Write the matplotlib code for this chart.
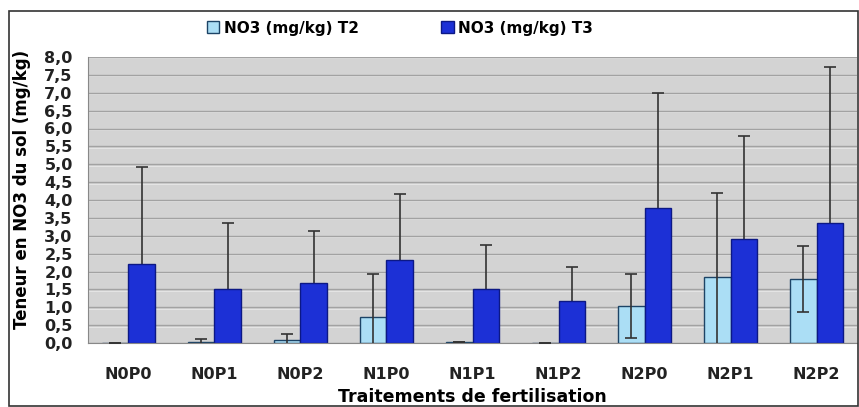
import matplotlib.pyplot as plt
from matplotlib.patches import Rectangle
import numpy as np

categories = ["N0P0", "N0P1", "N0P2", "N1P0", "N1P1", "N1P2", "N2P0", "N2P1", "N2P2"]
t2_values = [0.0, 0.03, 0.07, 0.72, 0.02, 0.0, 1.03, 1.85, 1.80]
t2_errors = [0.0, 0.09, 0.18, 1.21, 0.0, 0.0, 0.90, 2.35, 0.92]
t3_values = [2.22, 1.52, 1.68, 2.33, 1.52, 1.17, 3.77, 2.90, 3.35]
t3_errors = [2.71, 1.83, 1.44, 1.85, 1.23, 0.96, 3.21, 2.90, 4.37]
yticks = np.arange(0, 8.01, 0.5)

fig = plt.figure(figsize=(8.59, 4.07), dpi=100)
ax = fig.add_axes([88 / 859, 1 - 343 / 407, 769 / 859, 286 / 407])

x = np.arange(len(categories))
w = 0.31
ax.set_facecolor('#d3d3d3')
for y in yticks:
    ax.axhline(y, color='#a2a2a2', lw=1.0, zorder=0.5)
    ax.axhline(y - 0.04, color='#e4e4e4', lw=0.8, zorder=0.4)

ax.bar(x - w / 2, t2_values, w, color='#abdef5', edgecolor='#1d4466', lw=1.0,
       label='NO3 (mg/kg) T2', zorder=2)
ax.bar(x + w / 2, t3_values, w, color='#1c30d6', edgecolor='#0c1885', lw=1.0,
       label='NO3 (mg/kg) T3', zorder=2)
ax.errorbar(x - w / 2, t2_values, yerr=t2_errors, fmt='none', ecolor='#333333',
            elinewidth=1.2, capsize=4, capthick=1.2, zorder=3)
# T3 : barres d'erreur derriere les barres (la partie basse est cachee)
ax.errorbar(x + w / 2, t3_values, yerr=t3_errors, fmt='none', ecolor='#333333',
            elinewidth=1.2, capsize=4, capthick=1.2, zorder=1.5)

ax.set_xlim(-0.47, 8.47)
ax.set_ylim(0, 8.0)
ax.set_yticks(yticks)
ax.set_yticklabels([f"{v:.1f}".replace('.', ',') for v in yticks])
ax.set_xticks(x)
ax.set_xticklabels(categories)
ax.tick_params(axis='both', length=0, labelsize=11.5)
ax.tick_params(axis='x', pad=17)
ax.tick_params(axis='y', pad=11)
for lab in ax.get_xticklabels() + ax.get_yticklabels():
    lab.set_fontweight('bold')
    lab.set_color('#222222')
for s in ['top', 'right']:
    ax.spines[s].set_visible(False)
ax.spines['left'].set_color('#888888')
ax.spines['bottom'].set_color('#888888')

fig.text(22 / 859, 1 - 189 / 407, "Teneur en NO3 du sol (mg/kg)", rotation=90, ha='center',
         va='center', fontsize=12, fontweight='bold')
fig.text(472 / 859, 1 - 397 / 407, "Traitements de fertilisation", ha='center', va='center',
         fontsize=12.5, fontweight='bold')

fig.legend(loc='center', bbox_to_anchor=(400 / 859, 1 - 28 / 407), ncol=2, frameon=False,
           prop={'weight': 'bold', 'size': 11}, handlelength=0.8,
           handleheight=0.8, handletextpad=0.3, columnspacing=5.4)

fig.add_artist(Rectangle((9 / 859, 1 / 407), 849 / 859, 395 / 407, transform=fig.transFigure,
                         fill=False, edgecolor='#333333', lw=1.2))

fig.savefig('out.png', dpi=100)
